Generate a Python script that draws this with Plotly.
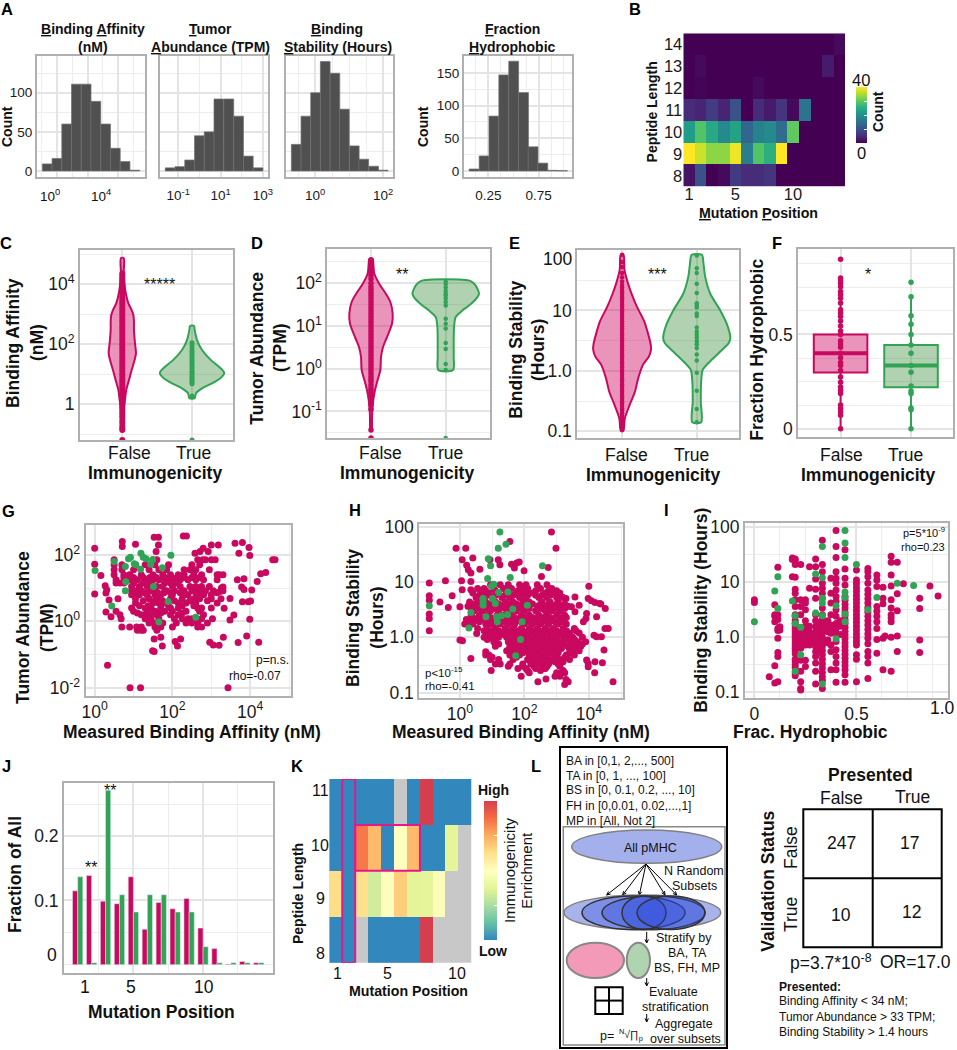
import math
import plotly.graph_objects as go

W, H = 957, 1050
RED = "#c9085f"
GREEN = "#31a354"
RED_FILL = "rgba(204,0,94,0.42)"
GREEN_FILL = "rgba(40,130,40,0.36)"
FONT = "Liberation Sans"

# panel A histograms (bin centres, counts), affinity/abundance/stability on log10 scale
ba_bins = [-0.61, 0.02, 0.65, 1.28, 1.91, 2.54, 3.17, 3.80, 4.43, 5.06]
ba_counts = [9, 16, 60, 111, 111, 89, 60, 29, 12, 1]
ta_bins = [-1.38, -0.92, -0.46, 0.0, 0.46, 0.92, 1.39, 1.85, 2.31, 2.77]
ta_counts = [4, 5.5, 14, 45, 50, 92, 92, 70, 19, 4]
bs_bins = [-0.56, -0.275, 0.01, 0.295, 0.58, 0.86, 1.15, 1.43, 1.72, 2.0]
bs_counts = [34, 70, 100, 140, 125, 79, 32, 15, 6, 1]
fh_bins = [0.107, 0.207, 0.305, 0.403, 0.502, 0.6, 0.695, 0.792, 0.89, 0.988]
fh_counts = [3, 23, 84, 147, 168, 120, 37, 12, 1, 0.5]

# panel B counts, rows are peptide lengths 8..14
b_positions = list(range(1, 15))
b_lengths = list(range(8, 15))
b_counts = [
    [2, 10, 0, 1, 7, 5, 5, 6, 0, 0, 0, 0, 0, 0],
    [40, 37, 33, 33, 39, 17, 29, 25, 40, 0, 0, 0, 0, 0],
    [22, 29, 24, 19, 23, 13, 18, 19, 14, 30, 0, 0, 0, 0],
    [5, 4, 7, 4, 10, 0, 5, 3, 6, 1, 15, 0, 0, 0],
    [0, 0.5, 0, 0, 0, 0, 1, 0, 0, 0, 0, 0, 0, 0],
    [0, 1, 0, 0, 0, 0, 0, 0, 0, 0, 0, 0, 3, 0],
    [0, 0, 0, 0, 0, 0, 0, 0, 0, 0, 0, 0, 0, 1],
]

# violin outlines: log10 level and half width in category units
c_false_lv = [4.87, 4.37, 4.03, 3.70, 3.37, 3.14, 2.98, 2.76, 2.48, 2.03, 1.70, 1.48, 1.14, 0.81, 0.48, 0.14, -0.19, -0.52, -0.86]
c_false_hw = [0.02, 0.02, 0.03, 0.05, 0.086, 0.134, 0.158, 0.167, 0.167, 0.182, 0.196, 0.177, 0.134, 0.096, 0.057, 0.038, 0.02, 0.014, 0.01]
c_true_lv = [2.61, 2.48, 2.14, 1.81, 1.48, 1.26, 1.09, 1.01, 0.87, 0.70, 0.53, 0.37, 0.2]
c_true_hw = [0.029, 0.038, 0.072, 0.144, 0.268, 0.383, 0.455, 0.459, 0.407, 0.287, 0.144, 0.057, 0.038]
d_false_lv = [2.566, 2.45, 2.22, 1.98, 1.75, 1.56, 1.29, 1.05, 0.74, 0.51, 0.28, -0.03, -0.26, -0.5, -0.73, -0.96, -1.19, -1.43]
d_false_hw = [0.022, 0.031, 0.045, 0.112, 0.2, 0.259, 0.29, 0.281, 0.214, 0.161, 0.134, 0.125, 0.089, 0.054, 0.031, 0.018, 0.013, 0.009]
d_true_lv = [2.05, 1.95, 1.75, 1.64, 1.48, 1.36, 1.21, 0.98, 0.67, 0.28, -0.03]
d_true_hw = [0.335, 0.4, 0.446, 0.41, 0.312, 0.223, 0.134, 0.112, 0.107, 0.107, 0.098]
e_false_lv = [1.92, 1.67, 1.44, 1.28, 1.05, 0.83, 0.60, 0.44, 0.35, 0.24, 0.10, -0.12, -0.35, -0.57, -0.79, -0.98]
e_false_hw = [0.018, 0.032, 0.081, 0.126, 0.203, 0.293, 0.351, 0.383, 0.387, 0.36, 0.279, 0.216, 0.171, 0.099, 0.036, 0.018]
e_true_lv = [1.92, 1.78, 1.56, 1.28, 1.0, 0.77, 0.55, 0.46, 0.32, 0.16, 0.02, -0.18, -0.51, -0.85]
e_true_hw = [0.068, 0.09, 0.113, 0.18, 0.315, 0.405, 0.45, 0.428, 0.315, 0.18, 0.081, 0.059, 0.054, 0.059]

# points inside the violins
c_false_pts = [-1.19, -0.86, -0.8, -0.72, -0.62, -0.55, -0.45, -0.38, -0.3, -0.22, -0.15, -0.08, 0.0, 0.08, 0.17, 0.26, 0.34, 0.43,
               0.52, 0.6, 0.68, 0.77, 0.85, 0.94, 1.02, 1.11, 1.2, 1.28, 1.37, 1.45, 1.54, 1.62, 1.71, 1.8, 1.88, 1.97, 2.05, 2.14,
               2.22, 2.31, 2.4, 2.48, 2.57, 2.65, 2.74, 2.82, 2.91, 3.0, 3.08, 3.17, 3.25, 3.34, 3.42, 3.51, 3.6, 3.68, 3.77, 3.85,
               3.94, 4.02, 4.11, 4.2, 4.28, 4.36]
c_true_pts = [-1.19, 0.28, 0.68, 0.74, 0.8, 0.86, 0.92, 0.98, 1.05, 1.1, 1.18, 1.25, 1.32, 1.4, 1.47, 1.55, 1.62, 1.7, 1.77, 1.85, 1.95, 2.05]
d_false_pts = [-1.62, -1.43, -0.95, -0.85, -0.78, -0.72, -0.66, -0.6, -0.55, -0.5, -0.45, -0.38, -0.3, -0.24, -0.18, -0.11, -0.04, 0.03,
               0.1, 0.17, 0.24, 0.31, 0.38, 0.45, 0.52, 0.59, 0.66, 0.73, 0.8, 0.87, 0.94, 1.01, 1.08, 1.15, 1.22, 1.29, 1.36, 1.43,
               1.5, 1.57, 1.64, 1.71, 1.78, 1.85, 1.92, 2.0, 2.1, 2.18, 2.25, 2.3, 2.38, 2.45, 2.5, 2.55]
d_true_pts = [-1.62, -0.03, 0.11, 0.46, 0.6, 0.94, 1.05, 1.17, 1.48, 1.56, 1.64, 1.71, 1.75, 1.82, 1.9, 1.98, 2.04]
e_false_pts = [-0.98, -0.94, -0.9, -0.86, -0.82, -0.78, -0.74, -0.7, -0.66, -0.62, -0.58, -0.54, -0.5, -0.46, -0.42, -0.38, -0.34, -0.3,
               -0.26, -0.22, -0.18, -0.14, -0.1, -0.06, -0.02, 0.02, 0.06, 0.1, 0.14, 0.18, 0.22, 0.26, 0.3, 0.34, 0.38, 0.42, 0.46,
               0.5, 0.54, 0.58, 0.62, 0.66, 0.7, 0.74, 0.78, 0.82, 0.86, 0.9, 0.94, 0.98, 1.02, 1.06, 1.1, 1.14, 1.18, 1.22, 1.26,
               1.3, 1.34, 1.38, 1.42, 1.48, 1.55, 1.62, 1.72, 1.8, 1.92]
e_true_pts = [1.91, 1.7, 1.62, 1.44, 1.29, 1.12, 1.08, 1.05, 0.95, 0.91, 0.72, 0.65, 0.6, 0.55, 0.49, 0.44, 0.38, 0.27, 0.17, -0.03, -0.33, -0.63, -0.85]
f_false_pts = [0.9, 0.8, 0.786, 0.772, 0.754, 0.728, 0.711, 0.693, 0.667, 0.632, 0.614, 0.596, 0.572, 0.545, 0.519, 0.5, 0.467, 0.449,
               0.432, 0.4, 0.377, 0.351, 0.335, 0.309, 0.274, 0.247, 0.221, 0.204, 0.186, 0.125, 0.107, 0.089, 0.071, 0.0]
f_true_pts = [0.777, 0.7, 0.6, 0.555, 0.5, 0.444, 0.4, 0.335, 0.3, 0.226, 0.2, 0.186, 0.11, 0.1, 0.0]
# F boxes: q1, median, q3, lower fence, upper fence
f_false_box = [0.298, 0.40, 0.5, 0.0, 0.8]
f_true_box = [0.22, 0.335, 0.444, 0.0, 0.70]

# panel G scatter, log10 affinity / log10 abundance
g_red_pairs = [(0, 2.2), (0, 1.72), (0, 0.82), (0.16, 1.38), (0.27, 1.07), (0.31, 0.95), (0.29, 0.85), (0.37, 0.64), (0.29, 0.28), (0.42, 0.14),
               (0.33, -1.32), (0.91, -2), (1.18, -2), (3.43, -2), (1.49, -0.89), (1.53, -0.91), (1.53, -0.53), (1.7, -0.48), (1.74, -0.74),
               (2.07, -0.61), (2.13, -0.74), (2.21, -0.53), (2.96, -0.63), (3.05, -0.71), (3.2, -0.72), (3.31, -0.48), (3.69, -0.64), (3.91, -0.44),
               (4.22, -0.63), (1.53, 2.53), (1.64, 2.53), (2.28, 2.57), (2.36, 2.57), (0.71, 2.4), (0.71, 2.25), (1.05, 2.32), (1.64, 2.3), (1.58, 2.1),
               (3.0, 2.3), (3.18, 2.3), (3.61, 2.35), (3.8, 2.37), (3.97, 2.22), (3.71, 2.05), (3.99, 1.98), (4.58, 1.85), (4.64, 1.85), (4.4, 1.47),
               (4.27, 1.43), (4.18, 1.2), (4.04, 0.94), (4.01, 0.61), (3.95, 0.59), (3.8, 0.59), (3.99, 0.06), (3.48, 0.04), (3.58, 0.19), (3.33, 0.39),
               (3.48, 0.69), (3.26, 1.0), (3.3, 1.03), (3.22, 0.9), (3.67, 1.25), (3.84, 1.28), (3.78, 1.03), (3.84, 0.96), (2.58, 2.05), (2.71, 2.1),
               (2.79, 2.2), (2.92, 2.1)]
g_red_rows = [(1.85, [0.5, 1.5, 1.6, 2.65, 2.78, 2.85, 3.0, 3.1]),
              (1.7, [0.5, 0.7, 1.3, 1.55, 1.9, 2.5, 2.7]),
              (1.55, [0.5, 0.7, 1.0, 1.4, 1.65, 1.85, 2.3, 2.45, 2.6, 2.95]),
              (1.4, [0.5, 0.75, 0.9, 1.2, 1.5, 1.75, 1.95, 2.15, 2.3, 2.55, 2.75, 3.15, 3.2, 3.3]),
              (1.32, [0.75, 1.0, 1.25, 1.42, 1.58, 1.8, 1.98, 2.12, 2.3, 2.5, 2.7]),
              (1.25, [0.55, 0.9, 1.1, 1.35, 1.5, 1.65, 1.9, 2.05, 2.2, 2.4, 2.6, 2.8, 3.15]),
              (1.15, [0.55, 0.65, 0.75, 1.0, 1.25, 1.45, 1.8, 1.95, 2.1]),
              (1.05, [0.95, 1.15, 1.35, 1.6, 1.75, 2.0, 2.2, 2.45, 2.6, 2.75, 2.95]),
              (0.92, [0.95, 1.05, 1.2, 1.45, 1.55, 1.85, 2.05, 2.3, 2.5, 2.7, 2.85, 3.05, 3.3]),
              (0.86, [1.1, 1.3, 1.62, 1.78, 1.95, 2.2, 2.6, 3.15]),
              (0.8, [0.95, 1.15, 1.35, 1.55, 1.7, 2.0, 2.3, 2.4, 2.65, 2.8, 3.0]),
              (0.68, [0.6, 1.05, 1.4, 1.6, 1.95, 2.25, 2.55, 2.7, 3.0, 3.25]),
              (0.62, [1.25, 1.55, 1.75, 2.05, 2.45, 2.9]),
              (0.55, [1.05, 1.5, 1.65, 1.8, 2.15, 2.35, 2.6, 3.15]),
              (0.47, [1.15, 1.38, 1.9, 2.25, 2.55]),
              (0.4, [0.95, 1.3, 1.45, 1.7, 1.95, 2.15, 2.65, 2.75, 3.0]),
              (0.3, [0.55, 1.0, 1.35, 1.55, 1.8, 2.0, 2.35, 2.7]),
              (0.25, [1.1, 1.7, 2.25]),
              (0.2, [0.65, 1.2, 1.3, 1.45, 1.6, 1.95, 2.15, 2.8]),
              (0.08, [0.68, 1.3, 1.45, 1.65, 2.05, 2.25, 2.4, 2.5, 2.75, 3.03]),
              (-0.05, [1.4, 1.55, 1.75, 2.1, 2.35, 2.5, 2.65, 2.9]),
              (-0.17, [0.7, 0.9, 1.08, 1.2, 1.55, 1.7, 2.0, 2.65, 2.75]),
              (-0.27, [1.1, 1.2, 1.25, 1.6])]
g_green_pairs = [(0.01, 1.53), (0.5, 1.8), (0.79, 1.65), (0.87, 1.88), (0.92, 1.93), (1.02, 1.73), (1.06, 1.7), (1.18, 1.57), (1.19, 2.05), (1.25, 1.93),
                 (1.32, 1.88), (1.44, 1.72), (1.49, 1.85), (1.74, 1.61), (1.96, 1.99), (0.8, 1.19), (0.79, 0.92), (1.51, 1.05), (1.89, 0.6), (0.44, 0.46),
                 (1.65, -0.02), (2.6, 0.12)]

# panel H scatter, log10 affinity / log10 stability
h_red_pairs = [(-0.95, 0.98), (-0.95, 0.75), (-0.95, 0.67), (-0.95, 0.42), (-0.95, 0.34), (-0.95, 0.12), (-0.62, 0.64), (-0.36, 0.54), (-0.45, 1.02),
               (-0.24, 0.75), (0, 0.55), (-0.12, 1.61), (0.18, 1.61), (0.07, 1.4), (0.4, 1.43), (0.21, 1.3), (0.26, 1.22), (0.34, 1.16), (0.05, 1.02),
               (0.07, 0.86), (0.34, 1.01), (0.34, 0.86), (0.62, 1.23), (0.93, 1.4), (1.19, 1.4), (1.24, 1.31), (1.55, 1.73), (2.84, 1.9), (2.98, 1.61),
               (1.6, 1.32), (1.76, 1.34), (1.84, 1.36), (1.69, 1.25), (1.99, 1.2), (2.74, 1.26), (2.53, 1.1), (4.0, 0.92), (3.98, 0.7), (4.08, 0.66),
               (4.19, 0.63), (4.34, 0.61), (4.37, 0.6), (4.51, 0.52), (4.24, 0.37), (3.93, 0.43), (3.91, 0.34), (3.83, 0.28), (4.5, 0.16), (4.6, 0.16),
               (4.16, 0.04), (4.24, 0.01), (4.39, 0.01), (4.47, -0.23), (3.93, -0.41), (3.98, -0.47), (3.98, -0.53), (4.19, -0.44), (4.42, -0.46),
               (4.18, -0.64), (4.75, -0.8), (3.29, -0.76), (3.36, -0.8), (3.25, -0.85), (2.42, -0.8), (2.67, -0.75), (0.97, -0.6), (0.34, -0.38),
               (0, -0.05), (0.08, -0.06), (0.52, 0.07), (0.8, -0.26), (0.8, -0.32), (3.57, 0.73), (3.46, 0.55), (3.7, 0.58), (3.57, 0.46), (3.29, 0.7)]
h_red_rows = [(0.95, [0.95, 1.25, 1.5, 1.85, 2.05, 2.4, 2.7]),
              (0.88, [0.55, 0.75, 1.05, 1.35, 1.6, 1.9, 2.1, 2.5, 2.85]),
              (0.84, [0.8, 1.1, 1.5, 1.8, 2.0, 2.35, 2.75, 3.0]),
              (0.8, [0.4, 0.65, 0.9, 1.2, 1.45, 1.75, 1.95, 2.2, 2.65, 2.9, 3.1]),
              (0.76, [0.6, 0.85, 1.1, 1.4, 1.65, 1.9, 2.1, 2.35, 2.55, 2.8, 3.05]),
              (0.72, [0.5, 0.75, 1.0, 1.3, 1.55, 1.85, 2.05, 2.45, 2.7, 3.0, 3.2]),
              (0.64, [0.3, 0.55, 0.8, 1.1, 1.4, 1.65, 1.95, 2.15, 2.55, 2.8, 3.05]),
              (0.6, [0.4, 0.7, 0.95, 1.2, 1.5, 1.75, 1.95, 2.25, 2.5, 2.75, 3.0, 3.25]),
              (0.56, [0.25, 0.6, 0.85, 1.05, 1.3, 1.6, 1.85, 2.05, 2.4, 2.6, 2.9, 3.15, 3.35]),
              (0.52, [0.35, 0.55, 0.8, 1.1, 1.4, 1.65, 1.9, 2.15, 2.5, 2.75, 3.0, 3.25]),
              (0.48, [0.45, 0.7, 0.95, 1.2, 1.5, 1.75, 2.0, 2.35, 2.65, 2.85, 3.1]),
              (0.4, [0.35, 0.6, 0.85, 1.15, 1.35, 1.6, 1.9, 2.15, 2.45, 2.7, 3.0, 3.25]),
              (0.36, [0.4, 0.65, 0.95, 1.25, 1.45, 1.7, 2.0, 2.25, 2.4, 2.6, 2.8, 3.1, 3.3]),
              (0.32, [0.2, 0.5, 0.75, 1.05, 1.3, 1.55, 1.8, 2.05, 2.3, 2.6, 2.85, 3.15]),
              (0.28, [0.3, 0.6, 0.9, 1.15, 1.4, 1.65, 1.9, 2.15, 2.4, 2.55, 2.7, 2.95, 3.2]),
              (0.24, [0.15, 0.4, 0.8, 1.0, 1.25, 1.5, 1.7, 2.0, 2.25, 2.5, 2.75, 3.05, 3.3]),
              (0.16, [0.55, 0.85, 1.1, 1.4, 1.65, 1.9, 2.15, 2.4, 2.65, 2.9, 3.2, 3.55]),
              (0.12, [0.75, 1.0, 1.2, 1.5, 1.75, 1.95, 2.25, 2.45, 2.6, 2.8, 3.0, 3.3, 3.6]),
              (0.08, [0.85, 1.05, 1.3, 1.6, 1.85, 2.05, 2.35, 2.55, 2.8, 3.1, 3.4, 3.7]),
              (0.04, [0.9, 1.1, 1.4, 1.7, 1.95, 2.15, 2.35, 2.5, 2.7, 2.9, 3.15, 3.35]),
              (0.0, [0.75, 0.95, 1.2, 1.45, 1.75, 2.0, 2.2, 2.45, 2.7, 2.95, 3.25, 3.5, 3.8]),
              (-0.04, [0.85, 1.1, 1.6, 1.9, 2.1, 2.35, 2.55, 2.75, 3.0, 3.3, 3.55]),
              (-0.08, [1.05, 1.5, 1.8, 2.1, 2.3, 2.6, 2.85, 3.15, 3.45, 3.65, 3.9]),
              (-0.12, [1.2, 1.65, 1.95, 2.2, 2.4, 2.65, 2.95, 3.2, 3.5, 3.8]),
              (-0.16, [1.1, 1.55, 1.75, 2.05, 2.25, 2.5, 2.8, 3.05, 3.35, 3.6, 3.75]),
              (-0.2, [1.55, 1.85, 2.1, 2.35, 2.6, 2.9, 3.15, 3.4, 3.6]),
              (-0.24, [1.45, 1.7, 2.0, 2.2, 2.45, 2.75, 3.0, 3.5, 3.7]),
              (-0.28, [1.6, 1.95, 2.3, 2.55, 2.8, 3.05, 3.4]),
              (-0.32, [0.9, 1.55, 1.85, 2.15, 2.4, 2.65, 2.95, 3.3, 3.55]),
              (-0.36, [1.0, 1.75, 2.2, 2.45, 2.7, 3.0, 3.25]),
              (-0.4, [0.95, 1.2, 1.65, 2.1, 2.3, 2.55, 2.85, 3.1, 3.4]),
              (-0.44, [2.2, 2.4, 2.65, 2.95, 3.2]),
              (-0.48, [1.1, 1.25, 1.55, 1.95, 2.2, 2.5, 2.75, 3.05]),
              (-0.52, [1.5, 1.95, 2.3, 2.7, 3.1]),
              (-0.56, [1.8, 2.05, 2.35, 2.6, 2.65]),
              (-0.6, [2.1, 2.5, 3.2]),
              (-0.64, [2.15, 3.0, 3.15, 3.25]),
              (-0.7, [1.9, 2.95, 3.1])]
h_green_pairs = [(1.24, 1.9), (1.43, 1.68), (1.19, 1.61), (0.88, 1.42), (0.95, 1.29), (2.56, 1.29), (0.86, 1.06), (1.56, 1.08), (1.05, 0.96), (0.98, 0.92),
                 (1.2, 0.81), (1.49, 0.82), (0.72, 0.7), (0.72, 0.64), (0.72, 0.58), (1.01, 0.7), (1.1, 0.61), (2.09, 0.58), (1.64, 0.51), (0.34, 0.45),
                 (0.81, 0.37), (1.14, 0.37), (1.29, 0.39), (1.48, 0.41), (1.16, 0.28), (1.93, 0.28), (0.28, 0.17), (-0.95, 0.57), (1.88, -0.04), (1.73, -0.33)]

# panel I scatter, fraction hydrophobic columns with log10 stability values
i_red_cols = [(0.0, [0.68, 0.63]),
              (0.073, [-0.72]),
              (0.1, [0.59, 0.41, 0.38, 0.28, -0.52, -0.83]),
              (0.115, [1.27, 0.41, 0.32, 0.16, 0.12, -0.02, -0.28, -0.35, -0.81]),
              (0.125, [0.19, 0.13]),
              (0.186, [1.44, 1.41, 1.10]),
              (0.2, [1.42, 1.39, 1.32, 1.09, 0.87, 0.8, 0.68, 0.56, 0.41, 0.38, 0.3, 0.25, 0.2, 0.15, 0.1, 0.05, 0, -0.05, -0.1, -0.15, -0.2, -0.25, -0.3, -0.4, -0.45, -0.5, -0.55, -0.65, -0.7]),
              (0.22, [0.1, 0.05, 0.0, -0.05, -0.1, -0.15]),
              (0.227, [1.32, 0.68, 0.56, 0.41, -0.02, -0.11, -0.2, -0.42, -0.62, -0.81, -0.93, -0.96]),
              (0.25, [0.68, 0.62, 0.5, 0.3, 0.2, 0.1, 0.04, -0.05, -0.14, -0.42, -0.53]),
              (0.27, [1.28, 0.89, 0.2, 0.1, 0.04, -0.05, -0.14]),
              (0.28, [0.0, -0.08, -0.05]),
              (0.3, [1.42, 1.28, 1.06, 0.87, 0.71, 0.41, 0.3, 0.19, 0.1, 0.01, -0.08, -0.17, -0.26, -0.35, -0.47, -0.62, -0.85]),
              (0.315, [0.25, 0.15, 0.05, -0.05, -0.15, -0.25]),
              (0.333, [1.76, 1.32, 1.19, 0.98, 0.89, 0.8, 0.71, 0.53, 0.41, 0.32, 0.24, 0.16, 0.08, 0, -0.08, -0.16, -0.24, -0.32, -0.4, -0.48, -0.56, -0.64, -0.72, -0.78, -0.93]),
              (0.36, [0.3, 0.2, 0.1, -0.05, -0.1]),
              (0.375, [1.07, 0.8, 0.62, 0.41, 0.22, 0.16, 0.07, -0.14, -0.26, -0.59]),
              (0.4, [1.94, 1.65, 1.45, 1.19, 1.07, 0.98, 0.86, 0.74, 0.65, 0.5, 0.38, 0.25, 0.16, 0.07, -0.08, -0.23, -0.35, -0.47, -0.59, -0.82]),
              (0.42, [0.3, 0.2, 0.05]),
              (0.444, [1.59, 1.24, 1.07, 0.95, 0.74, 0.67, 0.6, 0.53, 0.46, 0.39, 0.32, 0.25, 0.18, 0.11, 0.04, -0.03, -0.1, -0.17, -0.24, -0.31, -0.38, -0.45, -0.52, -0.59, -0.68, -0.82]),
              (0.5, [1.22, 1.04, 0.97, 0.9, 0.83, 0.76, 0.69, 0.62, 0.55, 0.48, 0.41, 0.34, 0.27, 0.2, 0.13, 0.06, -0.01, -0.08, -0.14, -0.32, -0.4, -0.81]),
              (0.556, [1.25, 1.19, 1.1, 0.98, 0.86, 0.78, 0.7, 0.62, 0.54, 0.46, 0.38, 0.3, 0.22, 0.14, 0.06, -0.02, -0.12, -0.26, -0.35, -0.47, -0.75]),
              (0.6, [1.13, 1.04, 0.92, 0.56, 0.47, 0.38, 0.28, 0.16, -0.04, -0.29]),
              (0.63, [0.91, 0.71, 0.61, -0.02, -0.59]),
              (0.64, [0.02]),
              (0.67, [1.47, 1.36, 1.13, 0.93, 0.68, 0.53, 0.41, 0.35, 0.28, 0.0, -0.62]),
              (0.7, [1.36, 0.79, 0.48, 0.02, -0.26]),
              (0.73, [0.97]),
              (0.81, [0.71, 0.52, -0.05, -0.28]),
              (0.86, [0.93]),
              (0.9, [0.75])]
i_green_pairs = [(0, 0.28), (0.1, 0.84), (0.115, 1.1), (0.115, 0.52), (0.186, 0.66), (0.2, 0.39), (0.2, 0.25), (0.227, 0.18), (0.227, -0.32), (0.2, -0.62),
                 (0.3, 1.15), (0.3, 0.44), (0.333, 1.65), (0.333, 1.08), (0.333, 0.71), (0.333, 0.62), (0.333, 0.39), (0.333, -0.85), (0.4, 0.57), (0.4, -0.03),
                 (0.444, 1.94), (0.444, 1.71), (0.444, 1.45), (0.444, 0.82), (0.444, 0.72), (0.444, 0.42), (0.444, 0.28), (0.5, 1.32), (0.556, 0.5), (0.6, 0.72),
                 (0.7, 0.98), (0.78, 0.94)]

# panel J fractions by mutation position
j_positions = list(range(1, 15))
j_red = [0.115, 0.139, 0.099, 0.095, 0.137, 0.055, 0.097, 0.087, 0.103, 0.057, 0.025, 0.001, 0.005, 0.003]
j_green = [0.137, 0.003, 0.272, 0.109, 0.082, 0.109, 0.109, 0.082, 0.082, 0.028, 0.003, 0.003, 0.003, 0.003]

# panel K enrichment, None means no data (grey)
k_positions = list(range(1, 12))
k_lengths = [8, 9, 10, 11]
k_enrich = [
    [0, 0, None, 0, 0, 0, 0, 1, None, None, None],
    [0.63, 0, 0.62, 0.33, 0.49, 0.67, 0.37, 0.38, 0.48, None, None],
    [0, 0, 0.85, 0.72, 0, 0.5, 0.72, 0, 0, 0.38, None],
    [0, 0, 0, 0, 0, None, 0, 1, 0, 0, 0],
]
k_all = [[1] * 11 for _ in k_lengths]
spectral = ["#3288bd", "#66c2a5", "#abdda4", "#e6f598", "#ffffbf", "#fee08b", "#fdae61", "#f46d43", "#d53e4f"]

# contingency table in panel L
table_cells = ["247", "17", "10", "12"]


def from_rows(rows):
    return [x for _, xs in rows for x in xs], [y for y, xs in rows for _ in xs]


fig = go.Figure()
layout = {}
notes = []
shapes = []


def axis(base, domain, rng, anchor, ticks, labels, minor, frame):
    minor = list(minor)
    if labels:
        # only labelled ticks stay major, the rest just get a grid line
        minor += [v for v, t in zip(ticks, labels) if not t]
        shown = [(v, t) for v, t in zip(ticks, labels) if t]
        ticks, labels = [v for v, _ in shown], [t for _, t in shown]
    out = dict(base, domain=domain, range=rng, anchor=anchor, tickvals=list(ticks), showticklabels=bool(labels),
               minor=dict(tickmode="array", tickvals=minor, showgrid=frame, gridcolor="#ededed", gridwidth=1))
    if labels:
        out["ticktext"] = labels
    return out


def panel(n, box, xr, yr, xt=(), xl=None, yt=(), yl=None, xm=(), ym=(), frame=True, size=17.5, xgap=None, ygap=None):
    x0, y0, x1, y1 = box
    base = dict(zeroline=False, showline=frame, mirror=frame, linecolor="#b0b0b0", linewidth=2, showgrid=frame, automargin=False,
                gridcolor="#e4e4e4", gridwidth=1.5, tickfont=dict(size=size, color="#1a1a1a"), layer="below traces", tickmode="array")
    xax = axis(base, [x0 / W, x1 / W], xr, f"y{n}", xt, xl, xm, frame)
    yax = axis(base, [1 - y1 / H, 1 - y0 / H], yr, f"x{n}", yt, yl, ym, frame)
    if xgap is not None:
        xax["ticklabelstandoff"] = xgap
    if ygap is not None:
        yax["ticklabelstandoff"] = ygap
    name = "" if n == 1 else str(n)
    layout["xaxis" + name] = xax
    layout["yaxis" + name] = yax


def ax(n):
    return ("x", "y") if n == 1 else (f"x{n}", f"y{n}")


def txt(x, y, text, size=17.5, bold=False, angle=0, anchor="center", color="#111111"):
    notes.append(dict(xref="paper", yref="paper", x=x / W, y=1 - y / H, text=f"<b>{text}</b>" if bold else text, showarrow=False,
                      font=dict(size=size, color=color), textangle=angle, xanchor=anchor, yanchor="middle", borderpad=0))


def shape(kind, x0, y0, x1, y1, line="#000000", width=2, fill=None):
    shapes.append(dict(type=kind, xref="paper", yref="paper", x0=x0 / W, x1=x1 / W, y0=1 - y0 / H, y1=1 - y1 / H,
                       line=dict(color=line, width=width), fillcolor=fill))


def arrow(x0, y0, x1, y1, head=4):
    shape("line", x0, y0, x1, y1, "#000000", 1)
    a = math.atan2(y1 - y0, x1 - x0)
    for turn in (2.7, -2.7):
        shape("line", x1, y1, x1 + head * math.cos(a + turn), y1 + head * math.sin(a + turn), "#000000", 1)


def hist(n, bins, counts, width):
    xa, ya = ax(n)
    fig.add_trace(go.Bar(x=bins, y=counts, width=width, marker=dict(color="#505050", line=dict(color="#6e6e6e", width=0.7)), xaxis=xa, yaxis=ya))


def violin(n, center, levels, half, color, fill):
    xa, ya = ax(n)
    xs = [center - w for w in half] + [center + w for w in reversed(half)]
    ys = levels + levels[::-1]
    fig.add_trace(go.Scatter(x=xs + xs[:1], y=ys + ys[:1], mode="lines", fill="toself", fillcolor=fill,
                             line=dict(color=color, width=2, shape="spline", smoothing=0.8), xaxis=xa, yaxis=ya))


def dots(n, xs, ys, color, size):
    xa, ya = ax(n)
    fig.add_trace(go.Scatter(x=xs, y=ys, mode="markers", marker=dict(color=color, size=size), cliponaxis=True, xaxis=xa, yaxis=ya))


# ---- A
sup = lambda e: f"10<sup>{e}</sup>"
count_ticks = [0, 50, 100]
panel(1, (37, 56, 145, 177), [-1.27, 5.72], [-7.7, 147], [0, 2, 4], None, count_ticks, ["0", "50", "100"], [-1, 1, 3, 5], [25, 75, 125], size=13.5)
panel(2, (160, 56, 268, 177), [-1.86, 3.24], [-7.7, 147], [-1, 0, 1, 2, 3], [sup(-1), "", sup(1), "", sup(3)], count_ticks, None, (), [25, 75, 125], size=13.5, xgap=5)
panel(3, (286, 56, 393, 177), [-0.86, 2.29], [-7.7, 147], [0, 1, 2], [sup(0), "", sup(2)], count_ticks, None, [-0.5, 0.5, 1.5], [25, 75, 125], size=13.5, xgap=5)
panel(4, (464, 56, 572, 177), [0.007, 1.083], [-9.2, 176], [0.25, 0.5, 0.75, 1.0], ["0.25", "", "0.75", ""], [0, 50, 100, 150], ["0", "50", "100", "150"],
      [0.125, 0.375, 0.625, 0.875], [25, 75, 125], size=13.5, xgap=5)
hist(1, ba_bins, ba_counts, 0.63)
hist(2, ta_bins, ta_counts, 0.46)
hist(3, bs_bins, bs_counts, 0.285)
hist(4, fh_bins, fh_counts, 0.098)
txt(50, 195, sup(0), 13.5)
txt(101, 195, sup(4), 13.5)
txt(93, 29, "<u>B</u>inding <u>A</u>ffinity", 14, True)
txt(93, 47, "(nM)", 14, True)
txt(210, 29, "<u>T</u>umor", 14, True)
txt(210, 47, "<u>A</u>bundance (TPM)", 14, True)
txt(337, 29, "<u>B</u>inding", 14, True)
txt(338, 47, "<u>S</u>tability (Hours)", 14, True)
txt(512, 29, "<u>F</u>raction", 14, True)
txt(512, 47, "<u>H</u>ydrophobic", 14, True)
txt(7, 127, "Count", 14, True, -90)
txt(423, 127, "Count", 14, True, -90)

# ---- B
panel(5, (683.3, 33.3, 845, 186.7), [0.5, 14.5], [7.5, 14.5], [1, 5, 10], ["1", "5", "10"], b_lengths, [str(v) for v in b_lengths], frame=False, size=16.5, xgap=-4)
fig.add_trace(go.Heatmap(x=b_positions, y=b_lengths, z=b_counts, colorscale="Viridis", zmin=0, zmax=40, xaxis="x5", yaxis="y5",
                         colorbar=dict(x=855.7 / W, xanchor="left", y=1 - 115 / H, yanchor="middle", len=56, lenmode="pixels", thickness=11,
                                       thicknessmode="pixels", xpad=0, ypad=0, outlinewidth=0, tickmode="array", tickvals=[10, 20, 30],
                                       ticks="inside", ticklen=3, tickcolor="#ffffff", showticklabels=False)))
txt(651.7, 111.7, "Peptide Length", 14, True, -90)
txt(758, 212.7, "<u>M</u>utation <u>P</u>osition", 14.2, True)
txt(861, 80, "40", 16.5)
txt(861, 153, "0", 16.5)
txt(878, 112, "Count", 14, True, -90)

# ---- C
panel(6, (80, 250, 233, 440), [-0.607, 1.588], [-1.19, 5.14], [0, 1], None, [0, 2, 4], ["1", "10<sup>2</sup>", "10<sup>4</sup>"], (), [-1, 1, 3, 5])
violin(6, 0, c_false_lv, c_false_hw, RED, RED_FILL)
violin(6, 1, c_true_lv, c_true_hw, GREEN, GREEN_FILL)
dots(6, [0] * len(c_false_pts), c_false_pts, RED, 6)
dots(6, [1] * len(c_true_pts), c_true_pts, GREEN, 5)
txt(13, 343, "Binding Affinity", 17.5, True, -90)
txt(37, 343, "(nM)", 17.5, True, -90)
txt(129, 453, "False")
txt(193, 453, "True")
txt(155, 473, "Immunogenicity", 17.5, True)
txt(159, 284, "*****", 16)

# ---- D
panel(7, (327.3, 249, 490, 438), [-0.585, 1.593], [-1.62, 2.8], [0, 1], None, [-1, 0, 1, 2], ["10<sup>-1</sup>", "10<sup>0</sup>", "10<sup>1</sup>", "10<sup>2</sup>"], (), [-1.5, -0.5, 0.5, 1.5, 2.5])
violin(7, 0, d_false_lv, d_false_hw, RED, RED_FILL)
violin(7, 1, d_true_lv, d_true_hw, GREEN, GREEN_FILL)
dots(7, [0] * len(d_false_pts), d_false_pts, RED, 5.5)
dots(7, [1] * len(d_true_pts), d_true_pts, GREEN, 4.5)
txt(256.7, 348, "Tumor Abundance", 17.5, True, -90)
txt(280, 348, "(TPM)", 17.5, True, -90)
txt(380, 453, "False")
txt(445, 453, "True")
txt(406.7, 473, "Immunogenicity", 17.5, True)
txt(401.7, 275, "**", 16)

# ---- E
panel(8, (577.3, 250, 739.3, 438), [-0.6, 1.57], [-1.11, 2.0], [0, 1], None, [-1, 0, 1, 2], ["0.1", "1.0", "10", ""], (), [-0.5, 0.5, 1.5])
violin(8, 0, e_false_lv, e_false_hw, RED, RED_FILL)
violin(8, 1, e_true_lv, e_true_hw, GREEN, GREEN_FILL)
dots(8, [0] * len(e_false_pts), e_false_pts, RED, 4.5)
dots(8, [1] * len(e_true_pts), e_true_pts, GREEN, 4.5)
txt(557, 259, "100")
txt(515.7, 350, "Binding Stability", 17.5, True, -90)
txt(538, 350, "(Hours)", 17.5, True, -90)
txt(626.7, 455, "False")
txt(691.7, 455, "True")
txt(653, 475, "Immunogenicity", 17.5, True)
txt(657.7, 275, "***", 16)

# ---- F
panel(9, (798.3, 249, 953.3, 437.3), [-0.6, 1.6], [-0.046, 0.954], [0, 1], None, [0, 0.5], ["0", "0.5"], (), [0.125, 0.25, 0.375, 0.625, 0.75, 0.875])
for cx, vals, color, fill, pts in [(0, f_false_box, RED, RED_FILL, f_false_pts), (1, f_true_box, GREEN, GREEN_FILL, f_true_pts)]:
    fig.add_trace(go.Box(x=[cx], q1=[vals[0]], median=[vals[1]], q3=[vals[2]], lowerfence=[vals[3]], upperfence=[vals[4]], width=0.76,
                         whiskerwidth=0, fillcolor=fill, line=dict(color=color, width=2), boxpoints=False, xaxis="x9", yaxis="y9"))
    fig.add_trace(go.Scatter(x=[cx - 0.38, cx + 0.38], y=[vals[1], vals[1]], mode="lines", line=dict(color=color, width=4), xaxis="x9", yaxis="y9"))
    dots(9, [cx] * len(pts), pts, color, 5.5)
txt(756.7, 350, "Fraction Hydrophobic", 17.5, True, -90)
txt(841, 455, "False")
txt(905.7, 455, "True")
txt(867.7, 475, "Immunogenicity", 17.5, True)
txt(867.7, 275, "*", 16)

# ---- G
panel(10, (85.7, 525, 291, 695.7), [-0.231, 5.05], [-2.24, 2.9], [0, 1, 2, 3, 4, 5], [sup(0), "", sup(2), "", sup(4), ""], [-2, 0, 2], [sup(-2), sup(0), sup(2)], (), [-1, 1], xgap=-1)
gx, gy = from_rows(g_red_rows)
dots(10, [p[0] for p in g_red_pairs] + gx, [p[1] for p in g_red_pairs] + gy, RED, 7)
dots(10, [p[0] for p in g_green_pairs], [p[1] for p in g_green_pairs], GREEN, 7)
txt(23, 628, "Tumor Abundance", 17.5, True, -90)
txt(47, 628, "(TPM)", 17.5, True, -90)
txt(191.7, 732, "Measured Binding Affinity (nM)", 17.5, True)
txt(290, 660, "p=n.s.", 12, anchor="right")
txt(255, 676, "rho=-0.07", 12)

# ---- H
panel(11, (419.3, 524.3, 622.7, 698.3), [-1.26, 5.05], [-1.10, 2.04], [0, 1, 2, 3, 4, 5], [sup(0), "", sup(2), "", sup(4), ""], [-1, 0, 1, 2], ["0.1", "1.0", "10", "100"], (), [-0.5, 0.5, 1.5], xgap=-1)
hx, hy = from_rows(h_red_rows)
dots(11, [p[0] for p in h_red_pairs] + hx, [p[1] for p in h_red_pairs] + hy, RED, 7)
dots(11, [p[0] for p in h_green_pairs], [p[1] for p in h_green_pairs], GREEN, 7)
txt(353, 618, "Binding Stability", 17.5, True, -90)
txt(376.7, 618, "(Hours)", 17.5, True, -90)
txt(521, 732, "Measured Binding Affinity (nM)", 17.5, True)
txt(424, 672, "p&lt;10<sup>-15</sup>", 11.5, anchor="left")
txt(424, 686, "rho=-0.41", 11.5, anchor="left")

# ---- I
panel(12, (745, 523.3, 948.3, 698.3), [-0.046, 0.95], [-1.11, 2.07], [0, 0.25, 0.5, 0.75], ["0", "", "0.5", ""], [-1, 0, 1, 2], ["0.1", "1.0", "10", "100"], [0.125, 0.375, 0.625, 0.875], [-0.5, 0.5, 1.5], xgap=-1)
ix, iy = [], []
for fx, vals in i_red_cols:
    ix += [fx] * len(vals)
    iy += vals
dots(12, ix, iy, RED, 7)
dots(12, [p[0] for p in i_green_pairs], [p[1] for p in i_green_pairs], GREEN, 7)
txt(956, 708, "1.0", anchor="right")
txt(700.7, 610, "Binding Stability (Hours)", 17.5, True, -90)
txt(810, 732, "Frac. Hydrophobic", 17.5, True)
txt(946, 532, "p=5*10<sup>-9</sup>", 11, anchor="right")
txt(923, 547, "rho=0.23", 11)

# ---- J
panel(13, (64, 782.7, 272.7, 973.3), [0.019, 15.0], [-0.0135, 0.2836], [5, 10], None, [0, 0.1, 0.2], ["", "0.1", "0.2"], [2.5, 7.5, 12.5], [0.05, 0.15, 0.25])
fig.add_trace(go.Bar(x=j_positions, y=j_red, marker=dict(color=RED), xaxis="x13", yaxis="y13"))
fig.add_trace(go.Bar(x=j_positions, y=j_green, marker=dict(color=GREEN), xaxis="x13", yaxis="y13"))
txt(51.7, 955, "0")
txt(85, 987, "1")
txt(130.7, 987, "5")
txt(204, 987, "10")
txt(161.7, 1011.7, "Mutation Position", 17.5, True)
txt(15, 875, "Fraction of All", 17.5, True, -90)
txt(91, 867, "**", 16)
txt(110, 790, "**", 16)

# ---- K
panel(14, (329.3, 779, 471.7, 962.7), [0.5, 11.5], [7.5, 11.5], frame=False)
fig.add_trace(go.Heatmap(x=k_positions, y=k_lengths, z=k_all, colorscale=[[0, "#c8c8c8"], [1, "#c8c8c8"]], showscale=False, xaxis="x14", yaxis="y14"))
fig.add_trace(go.Heatmap(x=k_positions, y=k_lengths, z=k_enrich, colorscale=[[i / 8, c] for i, c in enumerate(spectral)], zmin=0, zmax=1, xaxis="x14", yaxis="y14",
                         colorbar=dict(x=484 / W, xanchor="left", y=1 - 870.5 / H, yanchor="middle", len=139, lenmode="pixels", thickness=12.7,
                                       thicknessmode="pixels", xpad=0, ypad=0, outlinewidth=0, tickmode="array", tickvals=[0.25, 0.5, 0.75],
                                       ticks="inside", ticklen=3, tickcolor="#ffffff", showticklabels=False)))
for bx0, bx1, by0, by1 in [(1.5, 2.5, 7.5, 11.5), (2.5, 7.5, 9.5, 10.5)]:
    shapes.append(dict(type="rect", xref="x14", yref="y14", x0=bx0, x1=bx1, y0=by0, y1=by1, line=dict(color="#e6178c", width=2)))
for yy, lab in [(790, "11"), (845, "10"), (898, "9"), (953, "8")]:
    txt(320, yy, lab, 16)
txt(337, 973, "1", 16)
txt(387, 973, "5", 16)
txt(457, 973, "10", 16)
txt(408, 990.7, "Mutation Position", 14.2, True)
txt(298, 894, "Peptide Length", 14, True, -90)
txt(493, 790, "High", 14, True)
txt(493, 951, "Low", 14, True)
txt(509, 870, "Immunogenicity", 15, False, -90)
txt(525.7, 870, "Enrichment", 15, False, -90)

# ---- L flow diagram
shape("rect", 560, 747, 727, 1048, "#000000", 2)
for yy, line_text in [(761, "BA in [0,1, 2,..., 500]"), (776, "TA in [0, 1, ..., 100]"), (790, "BS in [0, 0.1, 0.2, ..., 10]"),
                      (806, "FH in [0,0.01, 0.02,...,1]"), (821, "MP in [All, Not 2]")]:
    txt(565, yy, line_text, 12, anchor="left")
shape("rect", 563.3, 826.7, 725, 1045, "#888888", 1.5)
shape("circle", 571.7, 830, 721.7, 863.3, "#808080", 1.5, "#a4b0eb")
txt(650, 848, "All pMHC", 12.5)
for tip in [606.7, 622.7, 639.3, 665, 676.7]:
    arrow(646, 864, tip, 895)
txt(694, 871, "N Random", 12.5)
txt(694, 886, "Subsets", 12.5)
shape("circle", 564, 895, 720.7, 930, "#808080", 1.5, "#a8b3ec")
for ex0, ex1 in [(582, 685), (602, 705), (622, 666), (637, 705)]:
    shape("circle", ex0, 896, ex1, 929.5, "#333333", 1.5, "rgba(40,70,220,0.33)")
arrow(646.7, 932, 646.7, 943)
txt(684, 938, "Stratify by", 12.5)
txt(687, 953, "BA, TA", 12.5)
txt(687, 968, "BS, FH, MP", 12.5)
shape("circle", 566.7, 942.7, 624, 978, "#888888", 2, "#f29ab8")
shape("circle", 626.7, 942.7, 650, 978, "#888888", 2, "#b0d4b0")
arrow(646.7, 978, 646.7, 986)
shape("rect", 595.3, 987.3, 622.7, 1014, "#000000", 2)
shape("line", 609, 987.3, 609, 1014, "#000000", 2)
shape("line", 595.3, 1000.6, 622.7, 1000.6, "#000000", 2)
txt(673, 991.7, "Evaluate", 12.5)
txt(675, 1006.7, "stratification", 12.5)
arrow(646.7, 1014, 646.7, 1022)
txt(684, 1024, "Aggregate", 12.5)
txt(685.7, 1039, "over subsets", 12.5)
txt(607, 1036, "p=", 12.5)
txt(631, 1035, "<sup>N</sup>√∏<sub>p</sub>", 10.5)

# ---- L table
shape("rect", 803.3, 809.3, 941.7, 947.3, "#000000", 2)
shape("line", 872.7, 809.3, 872.7, 947.3, "#000000", 2)
shape("line", 803.3, 878.3, 941.7, 878.3, "#000000", 2)
txt(870, 775, "Presented", 17.5, True)
txt(841, 797.7, "False")
txt(912.7, 796.7, "True")
txt(768, 881.7, "Validation Status", 17.5, True, -90)
txt(791, 848, "False", 17.5, False, -90)
txt(791, 915, "True", 17.5, False, -90)
for (cx, cy), cell in zip([(841.7, 843), (909, 843.3), (841, 915), (911, 912)], table_cells):
    txt(cx, cy, cell)
txt(830.7, 962, "p=3.7*10<sup>-8</sup>")
txt(915, 962, "OR=17.0")
txt(778.3, 986.7, "Presented:", 12, True, anchor="left")
txt(778.3, 1001.3, "Binding Affinity &lt; 34 nM;", 12, anchor="left")
txt(778.3, 1016.7, "Tumor Abundance &gt; 33 TPM;", 12, anchor="left")
txt(778.3, 1031.7, "Binding Stability &gt; 1.4 hours", 12, anchor="left")

# panel letters
for lx, ly, letter in [(7, 9, "A"), (635, 9, "B"), (6, 243, "C"), (257, 243, "D"), (514, 243, "E"), (777, 243, "F"), (8, 511, "G"),
                       (355, 510, "H"), (666, 510, "I"), (6, 766, "J"), (297, 766, "K"), (536, 766, "L")]:
    txt(lx, ly, letter, 16.5, True, color="#000000")

fig.update_layout(width=W, height=H, autosize=False, margin=dict(l=0, r=0, t=0, b=0, pad=0), paper_bgcolor="white", plot_bgcolor="white",
                  showlegend=False, barmode="group", bargap=0.26, bargroupgap=0, font=dict(family=FONT, color="#111111"),
                  annotations=notes, shapes=shapes, **layout)

fig.write_html("out.html", config={"displayModeBar": False},
               post_script="document.body.style.margin='0';document.documentElement.style.overflow='hidden';")
